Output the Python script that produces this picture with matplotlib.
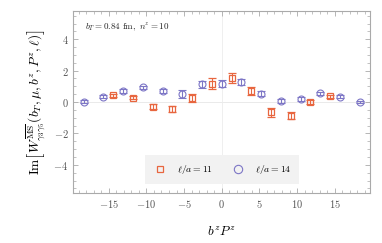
import matplotlib
matplotlib.use("Agg")
import matplotlib.pyplot as plt
from matplotlib.ticker import MultipleLocator
from matplotlib.lines import Line2D

plt.rcParams['mathtext.fontset'] = 'cm'
plt.rcParams['font.family'] = 'serif'
plt.rcParams['font.serif'] = ['cmr10', 'DejaVu Serif']
plt.rcParams['axes.formatter.use_mathtext'] = True
plt.rcParams['axes.unicode_minus'] = True

# l/a = 11 (red squares)
x_red = [-14.40, -11.78, -9.16, -6.54, -3.93, -1.31, 1.31, 3.93, 6.54, 9.16, 11.78, 14.40]
y_red = [0.44, 0.27, -0.30, -0.44, 0.27, 1.18, 1.52, 0.72, -0.65, -0.86, -0.01, 0.36]
e_red = [0.10, 0.10, 0.15, 0.20, 0.25, 0.35, 0.32, 0.25, 0.30, 0.25, 0.12, 0.10]

# l/a = 14 (blue circles)
x_blue = [-18.33, -15.71, -13.09, -10.47, -7.85, -5.24, -2.62, 0.0,
          2.62, 5.24, 7.85, 10.47, 13.09, 15.71, 18.33]
y_blue = [0.02, 0.34, 0.70, 0.93, 0.70, 0.51, 1.14, 1.16,
          1.27, 0.54, 0.06, 0.19, 0.55, 0.34, 0.0]
e_blue = [0.08, 0.10, 0.10, 0.10, 0.15, 0.25, 0.22, 0.22,
          0.20, 0.15, 0.15, 0.12, 0.10, 0.10, 0.08]

labels = [r'$\ell/a = 11$', r'$\ell/a = 14$']
red = '#e8663f'
blue = '#7d76c6'

fig = plt.figure(figsize=(3.82, 2.43), dpi=100)
ax = fig.add_axes([0.192, 0.205, 0.777, 0.750])

ax.axhline(0, color='#e6e6e6', lw=0.6, zorder=0)
ax.axvline(0, color='#ececec', lw=0.6, zorder=0)

ax.errorbar(x_red, y_red, yerr=e_red, fmt='s', ms=4.0, mfc='none', mec=red,
            mew=0.9, ecolor=red, elinewidth=0.8, capsize=2.6, capthick=0.8,
            zorder=3)
ax.errorbar(x_blue, y_blue, yerr=e_blue, fmt='o', ms=5.0, mfc='none', mec=blue,
            mew=0.8, ecolor=blue, elinewidth=0.8, capsize=2.6, capthick=0.8,
            zorder=3)

ax.set_xlim(-19.7, 19.7)
ax.set_ylim(-5.8, 5.8)
ax.xaxis.set_major_locator(MultipleLocator(5))
ax.xaxis.set_minor_locator(MultipleLocator(1))
ax.yaxis.set_major_locator(MultipleLocator(2))
ax.yaxis.set_minor_locator(MultipleLocator(0.5))
ax.tick_params(which='both', direction='in', top=True, right=True,
               color='#aaaaaa', labelcolor='#555555', labelsize=7.5)
ax.tick_params(which='major', length=3.5, width=0.6)
ax.tick_params(which='minor', length=2, width=0.5)
for s in ax.spines.values():
    s.set_color('#aaaaaa')
    s.set_linewidth(0.8)

ax.set_xlabel(r'$b^z P^z$', fontsize=9.5, labelpad=11)
ax.set_ylabel(r'$\mathrm{Im}\left[W^{\overline{\mathrm{MS}}}_{\gamma_3\gamma_5}(b_T,\mu,b^z,P^z,\ell)\right]$',
              fontsize=9.6, labelpad=4)

ax.text(0.04, 0.94, r'$b_T = 0.84\ \mathrm{fm},\ n^z = 10$', transform=ax.transAxes,
        fontsize=6.5, va='top', ha='left', color='#222222')

handles = [Line2D([], [], ls='none', marker='s', ms=4.0, mfc='none', mec=red, mew=0.9),
           Line2D([], [], ls='none', marker='o', ms=6.0, mfc='none', mec=blue, mew=0.8)]
leg = ax.legend(handles, labels, loc='lower center', bbox_to_anchor=(0.5, 0.025), ncol=2,
                fontsize=7, frameon=True, fancybox=False, edgecolor='none',
                facecolor='#f2f2f2', framealpha=1.0, handlelength=1.6,
                columnspacing=1.8, borderpad=0.8, handletextpad=0.9)

fig.savefig('out.png', dpi=100)
